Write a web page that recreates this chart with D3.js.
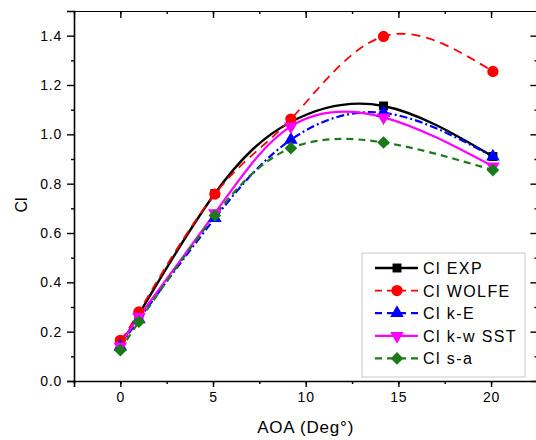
<!DOCTYPE html>
<html>
<head>
<meta charset="utf-8">
<script src="https://cdn.jsdelivr.net/npm/d3@7"></script>
<style>
  body { margin: 0; background: #fff; }
  text { font-family: Arial, "Liberation Sans", sans-serif; fill: #000; }
</style>
</head>
<body>
<div id="chart"></div>
<script>
// data
var aoa = [0, 1, 5.1, 9.2, 14.2, 20.1];
var clExp = [0.15, 0.27, 0.76, 1.05, 1.115, 0.91];
var clWolfe = [0.165, 0.28, 0.758, 1.062, 1.397, 1.255];
var clKE = [0.14, 0.25, 0.66, 0.978, 1.087, 0.91];
var clKwSst = [0.14, 0.26, 0.68, 1.032, 1.069, 0.87];
var clSa = [0.125, 0.24, 0.671, 0.944, 0.967, 0.855];
var seriesNames = ["Cl EXP", "Cl WOLFE", "Cl k-E", "Cl k-w SST", "Cl s-a"];
var xTicks = [0, 5, 10, 15, 20];
var yTicks = [0, 0.2, 0.4, 0.6, 0.8, 1.0, 1.2, 1.4];

var svgWidth = 536;
var svgHeight = 440;
var margin = { top: 11, left: 74, bottom: 59 };

var svg = d3.select("#chart")
    .append("svg")
    .attr("width", svgWidth)
    .attr("height", svgHeight);

// scales
var xScale = d3.scaleLinear().domain([-2.5, 22.5]).range([margin.left, 537.4]);
var yScale = d3.scaleLinear().domain([0, 1.5]).range([svgHeight - margin.bottom, margin.top]);

var series = [
    { name: seriesNames[0], values: clExp, color: "#000000", dash: null, width: 2.4, symbol: d3.symbolSquare, size: 80, rot: 0 },
    { name: seriesNames[1], values: clWolfe, color: "#ff0000", dash: "9,6", width: 1.8, symbol: d3.symbolCircle, size: 100, rot: 0 },
    { name: seriesNames[2], values: clKE, color: "#0000ff", dash: "8,3,2,3", width: 2.2, symbol: d3.symbolTriangle, size: 80, rot: 0 },
    { name: seriesNames[3], values: clKwSst, color: "#ff00ff", dash: null, width: 2.2, symbol: d3.symbolTriangle, size: 80, rot: 180 },
    { name: seriesNames[4], values: clSa, color: "#1a7a1a", dash: "7,5", width: 2.2, symbol: d3.symbolSquare, size: 80, rot: 45 }
];

var yBottom = yScale(0);

// bottom axis (ticks out)
svg.append("g")
    .attr("transform", "translate(0," + yBottom + ")")
    .call(d3.axisBottom(xScale).tickValues(d3.range(-2.5, 22.6, 2.5)).tickSize(3).tickFormat(""))
    .call(g => g.select(".domain").remove());
var xAxis = svg.append("g")
    .attr("transform", "translate(0," + yBottom + ")")
    .call(d3.axisBottom(xScale).tickValues(xTicks).tickSize(6).tickPadding(5).tickFormat(d3.format("d")));
xAxis.select(".domain").attr("stroke-width", 1.6);
xAxis.selectAll("text").style("font-size", "14px").style("letter-spacing", "0.8px");

// left axis (ticks out)
svg.append("g")
    .attr("transform", "translate(" + margin.left + ",0)")
    .call(d3.axisLeft(yScale).tickValues(d3.range(0.1, 1.5, 0.2)).tickSize(3).tickFormat(""))
    .call(g => g.select(".domain").remove());
var yAxis = svg.append("g")
    .attr("transform", "translate(" + margin.left + ",0)")
    .call(d3.axisLeft(yScale).tickValues(yTicks).tickSize(7).tickPadding(5).tickFormat(d3.format(".1f")));
yAxis.select(".domain").attr("stroke-width", 1.6);
yAxis.selectAll("text").style("font-size", "14px").style("letter-spacing", "0.8px");

// top axis (ticks in, no labels)
svg.append("g")
    .attr("transform", "translate(0," + margin.top + ")")
    .call(d3.axisTop(xScale).tickValues(d3.range(-2.5, 22.6, 2.5)).tickSize(-3).tickFormat(""))
    .call(g => g.select(".domain").remove());
svg.append("g")
    .attr("transform", "translate(0," + margin.top + ")")
    .call(d3.axisTop(xScale).tickValues(xTicks).tickSize(-7).tickFormat(""))
    .select(".domain").attr("stroke-width", 1.2);

// right axis (ticks in, mostly off the edge)
svg.append("g")
    .attr("transform", "translate(537.4,0)")
    .call(d3.axisRight(yScale).tickValues(d3.range(0.1, 1.5, 0.2)).tickSize(-3).tickFormat(""))
    .call(g => g.select(".domain").remove());
svg.append("g")
    .attr("transform", "translate(537.4,0)")
    .call(d3.axisRight(yScale).tickValues(yTicks).tickSize(-7).tickFormat(""));

svg.selectAll(".tick line").attr("stroke-width", 1.4);

// curves
var line = d3.line()
    .x(d => xScale(d[0]))
    .y(d => yScale(d[1]))
    .curve(d3.curveNatural);

series.forEach(function(s) {
    var pts = aoa.map((a, i) => [a, s.values[i]]);
    svg.append("path")
        .datum(pts)
        .attr("d", line)
        .attr("fill", "none")
        .attr("stroke", s.color)
        .attr("stroke-width", s.width)
        .attr("stroke-dasharray", s.dash);
});

// markers on top
series.forEach(function(s) {
    var sym = d3.symbol().type(s.symbol).size(s.size);
    svg.selectAll(null)
        .data(aoa.map((a, i) => [a, s.values[i]]))
        .enter().append("path")
        .attr("d", sym)
        .attr("transform", d => "translate(" + xScale(d[0]) + "," + yScale(d[1]) + ") rotate(" + s.rot + ")")
        .attr("fill", s.color);
});

// axis titles
svg.append("text")
    .attr("x", xScale(10))
    .attr("y", 433)
    .attr("text-anchor", "middle")
    .style("font-size", "17px")
    .style("letter-spacing", "0.8px")
    .text("AOA (Deg°)");
svg.append("text")
    .attr("transform", "translate(27,205) rotate(-90)")
    .attr("text-anchor", "middle")
    .style("font-size", "16px")
    .text("Cl");

// legend
var legend = svg.append("g");
legend.append("rect")
    .attr("x", 362).attr("y", 253)
    .attr("width", 163).attr("height", 124)
    .attr("fill", "#fff")
    .attr("stroke", "#c8c8c8")
    .attr("stroke-width", 1);

series.forEach(function(s, i) {
    var cy = 268 + i * 22.6;
    legend.append("line")
        .attr("x1", 375).attr("x2", 418)
        .attr("y1", cy).attr("y2", cy)
        .attr("stroke", s.color)
        .attr("stroke-width", s.width)
        .attr("stroke-dasharray", s.dash ? "7,5" : null);
    legend.append("path")
        .attr("d", d3.symbol().type(s.symbol).size(s.size)())
        .attr("transform", "translate(397," + cy + ") rotate(" + s.rot + ")")
        .attr("fill", s.color);
    legend.append("text")
        .attr("x", 423)
        .attr("y", cy + 6)
        .style("font-size", "16px")
        .style("letter-spacing", "1.4px")
        .text(s.name);
});
</script>
</body>
</html>
